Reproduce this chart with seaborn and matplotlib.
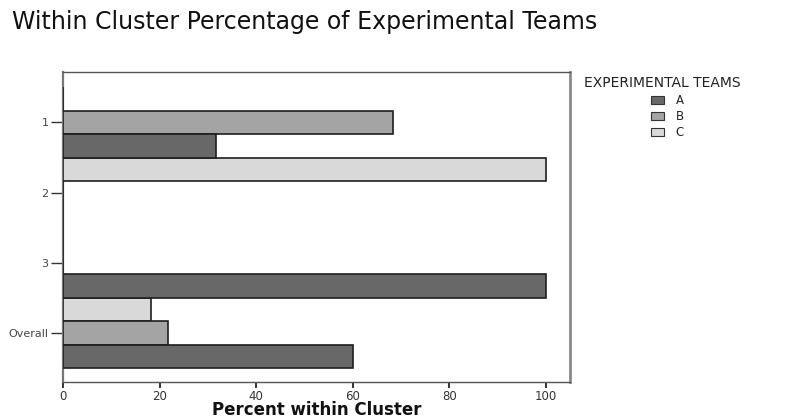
import matplotlib
matplotlib.use("Agg")
import matplotlib.pyplot as plt
from matplotlib.patches import Patch
import pandas as pd
import seaborn as sns

# Percent of each experimental team within every cluster
clusters = ["1", "2", "3", "Overall"]
teams = ["A", "B", "C"]
pct_a = [31.6, 0.0, 100.0, 60.0]
pct_b = [68.4, 0.0, 0.0, 21.7]
pct_c = [0.0, 100.0, 0.0, 18.3]
x_ticks = [0, 20, 40, 60, 80, 100]

team_colors = {"A": "#686868", "B": "#a4a4a4", "C": "#d9d9d9"}

df = pd.DataFrame({
    "Cluster": clusters * 3,
    "Team": ["A"] * 4 + ["B"] * 4 + ["C"] * 4,
    "Percent": pct_a + pct_b + pct_c,
})

sns.set_style("white")
plt.rcParams["font.family"] = ["DejaVu Sans"]

fig = plt.figure(figsize=(8.08, 4.18), dpi=100)
ax = fig.add_axes([63 / 808, 1 - 382 / 418, (570 - 63) / 808, (382 - 72) / 418])

sns.barplot(
    data=df, x="Percent", y="Cluster", hue="Team",
    order=clusters, hue_order=["C", "B", "A"],
    palette=team_colors, orient="h", width=1.0,
    edgecolor="#1e1e1e", linewidth=1.2, legend=False, ax=ax,
)
for bar in ax.patches:
    bar.set_zorder(3)

ax.set_xlim(0, 105)
ax.set_ylim(3.70, -0.72)
ax.set_xticks(x_ticks)
ax.set_xticklabels([str(t) for t in x_ticks])
ax.set_ylabel("")
ax.set_xlabel("Percent within Cluster", fontsize=12, fontweight="bold",
              color="#111111")
ax.xaxis.set_label_coords(0.5, -0.062)

ax.tick_params(axis="y", left=True, direction="out", length=9, width=1.0,
               color="#333333", labelsize=8, labelcolor="#444444", pad=1.5)
ax.tick_params(axis="x", bottom=True, direction="out", length=4, width=1.4,
               color="#333333", labelsize=8.5, labelcolor="#333333", pad=1.5)

for side in ["top", "bottom", "left"]:
    ax.spines[side].set_visible(True)
    ax.spines[side].set_color("#555555")
    ax.spines[side].set_linewidth(1.0)
ax.spines["left"].set_color("#777777")
ax.spines["left"].set_linewidth(1.6)
ax.spines["left"].set_zorder(1)
ax.spines["right"].set_visible(True)
ax.spines["right"].set_color("#8a8a8a")
ax.spines["right"].set_linewidth(2.0)

fig.text(12 / 808, 1 - 22 / 418, "Within Cluster Percentage of Experimental Teams",
         fontsize=17, color="#111111", va="center", ha="left")

fig.text(584 / 808, 1 - 83 / 418, "EXPERIMENTAL TEAMS",
         fontsize=10, color="#222222", va="center", ha="left")
handles = [Patch(facecolor=team_colors[t], edgecolor="#333333", linewidth=0.8, label=t)
           for t in teams]
fig.legend(handles=handles, loc="upper left",
           bbox_to_anchor=(645 / 808, 1 - 88 / 418), frameon=False,
           fontsize=8.5, handlelength=1.1, handleheight=0.7,
           handletextpad=1.0, labelspacing=0.25, borderpad=0.0,
           labelcolor="#222222")

fig.savefig("out.png", dpi=100)
